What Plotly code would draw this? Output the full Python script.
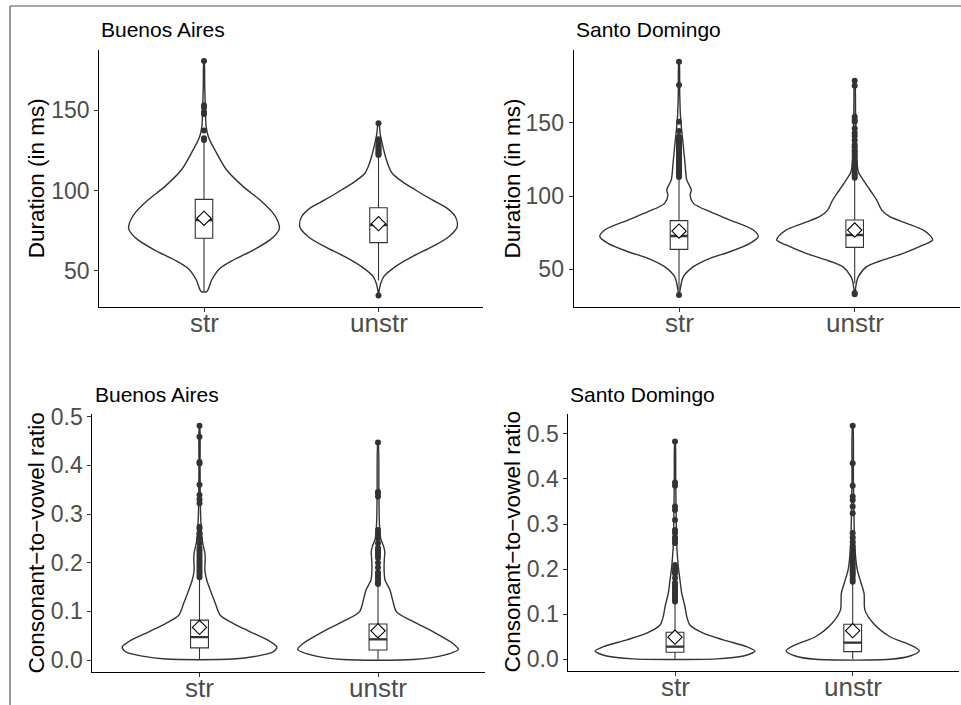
import plotly.graph_objects as go

# ---------------------------------------------------------------- data
CATEGORIES = ["str", "unstr"]
CAT_POS = [1, 2]

# Buenos Aires - duration (ms): box statistics for [str, unstr]
ba_dur_low = [37.2, 44.0]
ba_dur_q1 = [70.3, 67.6]
ba_dur_median = [81.7, 78.6]
ba_dur_q3 = [94.5, 89.3]
ba_dur_high = [130.2, 121.0]
ba_dur_mean = [82.7, 79.4]
ba_dur_str_out = [131.3, 132.5, 137.3, 147.5, 148.8, 151.5, 153.0, 180.5]
ba_dur_unstr_out = [34.7, 122.0, 122.8, 123.5, 124.5, 125.5, 126.5, 127.5,
                    128.5, 130.0, 131.8, 141.8]
# violin outlines: value levels and density half-widths (category units)
ba_dur_str_vy = [37.2, 40.3, 44.4, 51.7, 56.8, 63.0, 69.3, 73.0, 76.5, 80.5,
                 85.8, 94.1, 102.4, 112.7, 123.1, 133.4, 140.0, 150.0, 165.0, 180.5]
ba_dur_str_vw = [0.016, 0.03, 0.044, 0.092, 0.168, 0.283, 0.378, 0.415, 0.432, 0.425,
                 0.397, 0.321, 0.225, 0.13, 0.073, 0.025, 0.012, 0.008, 0.004, 0.001]
ba_dur_unstr_vy = [34.7, 38.0, 42.0, 46.5, 52.7, 58.9, 65.1, 71.3, 77.5, 83.7,
                   88.9, 94.1, 100.3, 105.5, 110.7, 114.8, 121.0, 129.3, 135.0, 141.8]
ba_dur_unstr_vw = [0.0, 0.004, 0.012, 0.03, 0.097, 0.193, 0.308, 0.403, 0.451, 0.441,
                   0.394, 0.308, 0.212, 0.136, 0.078, 0.059, 0.04, 0.021, 0.01, 0.002]

# Santo Domingo - duration (ms)
sd_dur_low = [35.5, 40.5]
sd_dur_q1 = [63.6, 65.0]
sd_dur_median = [72.7, 73.4]
sd_dur_q3 = [83.2, 83.6]
sd_dur_high = [112.0, 111.5]
sd_dur_mean = [76.1, 76.8]
sd_dur_str_out = [32.5, 113.0, 114.0, 115.0, 116.0, 117.0, 118.0, 119.0, 120.0,
                  121.0, 122.0, 123.0, 124.0, 125.0, 126.0, 127.0, 128.0, 129.0,
                  130.0, 131.0, 132.0, 133.0, 134.0, 135.0, 136.0, 137.0, 138.0,
                  139.0, 140.5, 144.3, 150.7, 175.7, 191.6]
sd_dur_unstr_out = [33.0, 33.8, 112.5, 114.0, 115.5, 117.7, 119.0, 120.5, 122.3,
                    124.0, 126.4, 128.0, 130.0, 131.0, 133.2, 135.0, 138.0, 140.9,
                    143.0, 146.0, 150.7, 152.0, 154.1, 175.2, 178.6]
sd_dur_str_vy = [32.5, 35.0, 40.0, 45.0, 51.8, 57.5, 62.0, 67.7, 72.3, 76.8, 83.6,
                 89.3, 95.0, 100.7, 104.0, 107.0, 111.0, 122.3, 133.6, 145.0, 155.0,
                 170.0, 191.6]
sd_dur_str_vw = [0.0, 0.005, 0.012, 0.025, 0.082, 0.176, 0.29, 0.404, 0.451, 0.423, 0.29,
                 0.176, 0.082, 0.063, 0.07, 0.06, 0.044, 0.034, 0.025, 0.015, 0.008,
                 0.004, 0.001]
sd_dur_unstr_vy = [33.0, 37.0, 41.0, 45.0, 51.8, 56.4, 60.9, 66.6, 70.0, 73.0, 76.8,
                   81.4, 85.9, 90.4, 97.3, 104.1, 110.9, 116.6, 125.0, 140.0, 155.0, 178.6]
sd_dur_unstr_vw = [0.0, 0.005, 0.01, 0.021, 0.068, 0.163, 0.277, 0.391, 0.444, 0.43, 0.391,
                   0.296, 0.2, 0.154, 0.125, 0.087, 0.049, 0.021, 0.012, 0.008, 0.005, 0.001]

# Buenos Aires - consonant-to-vowel ratio
ba_cv_low = [0.002, 0.001]
ba_cv_q1 = [0.025, 0.0206]
ba_cv_median = [0.047, 0.0425]
ba_cv_q3 = [0.082, 0.074]
ba_cv_high = [0.167, 0.153]
ba_cv_mean = [0.067, 0.060]
ba_cv_str_out = [0.170, 0.175, 0.180, 0.185, 0.190, 0.195, 0.200, 0.205, 0.210,
                 0.215, 0.220, 0.225, 0.230, 0.240, 0.250, 0.260, 0.270, 0.274,
                 0.322, 0.330, 0.339, 0.360, 0.404, 0.407, 0.459, 0.4815]
ba_cv_unstr_out = [0.156, 0.160, 0.165, 0.170, 0.175, 0.180, 0.190, 0.200, 0.210,
                   0.215, 0.220, 0.225, 0.230, 0.240, 0.250, 0.260, 0.267, 0.336,
                   0.343, 0.345, 0.447]
ba_cv_str_vy = [0.002, 0.008, 0.017, 0.027, 0.038, 0.058, 0.075, 0.092, 0.117, 0.144,
                0.164, 0.185, 0.206, 0.22, 0.24, 0.27, 0.30, 0.35, 0.40, 0.4815]
ba_cv_str_vw = [0.19, 0.32, 0.414, 0.433, 0.396, 0.284, 0.19, 0.116, 0.088, 0.06,
                0.041, 0.03, 0.032, 0.03, 0.018, 0.01, 0.006, 0.004, 0.003, 0.001]
ba_cv_unstr_vy = [0.001, 0.008, 0.022, 0.034, 0.058, 0.079, 0.099, 0.123, 0.144, 0.165,
                  0.192, 0.21, 0.223, 0.235, 0.25, 0.28, 0.34, 0.447]
ba_cv_unstr_vw = [0.198, 0.347, 0.45, 0.42, 0.31, 0.198, 0.104, 0.082, 0.067, 0.039,
                  0.034, 0.036, 0.038, 0.03, 0.015, 0.008, 0.005, 0.001]

# Santo Domingo - consonant-to-vowel ratio
sd_cv_low = [0.001, 0.0]
sd_cv_q1 = [0.0155, 0.0169]
sd_cv_median = [0.028, 0.037]
sd_cv_q3 = [0.060, 0.0777]
sd_cv_high = [0.125, 0.168]
sd_cv_mean = [0.049, 0.0635]
sd_cv_str_out = [0.128, 0.132, 0.136, 0.140, 0.145, 0.150, 0.155, 0.160, 0.165,
                 0.170, 0.180, 0.190, 0.195, 0.202, 0.209, 0.258, 0.265, 0.270,
                 0.280, 0.287, 0.309, 0.331, 0.339, 0.385, 0.392, 0.483]
sd_cv_unstr_out = [0.172, 0.178, 0.185, 0.190, 0.195, 0.200, 0.205, 0.210, 0.215,
                   0.220, 0.228, 0.235, 0.243, 0.250, 0.260, 0.270, 0.280, 0.324,
                   0.339, 0.353, 0.361, 0.385, 0.435, 0.518]
sd_cv_str_vy = [0.001, 0.0073, 0.0184, 0.028, 0.043, 0.058, 0.076, 0.095, 0.117, 0.146,
                0.176, 0.20, 0.25, 0.30, 0.40, 0.483]
sd_cv_str_vw = [0.235, 0.385, 0.45, 0.403, 0.272, 0.159, 0.084, 0.066, 0.056, 0.038,
                0.028, 0.02, 0.01, 0.007, 0.004, 0.001]
sd_cv_unstr_vy = [0.0, 0.0073, 0.019, 0.032, 0.05, 0.08, 0.109, 0.146, 0.172, 0.20,
                  0.25, 0.30, 0.40, 0.518]
sd_cv_unstr_vw = [0.21, 0.323, 0.375, 0.323, 0.21, 0.116, 0.069, 0.064, 0.045, 0.025,
                  0.012, 0.008, 0.004, 0.001]

# ---------------------------------------------------------------- styling
W, H = 961, 705
FONT = "Liberation Sans, Arial, Helvetica, sans-serif"
INK = "#333333"
TICK_GREY = "#4D4D4D"

panels = [
    dict(title="Buenos Aires", ytitle="Duration (in ms)",
         box=(ba_dur_low, ba_dur_q1, ba_dur_median, ba_dur_q3, ba_dur_high, ba_dur_mean),
         out=(ba_dur_str_out, ba_dur_unstr_out),
         vio=((ba_dur_str_vy, ba_dur_str_vw), (ba_dur_unstr_vy, ba_dur_unstr_vw)),
         xpx=(99.3, 483.2), ypx=(50, 307), yrange=[27.6, 187.3],
         ticks=[50, 100, 150], fmt="d", title_px=(99, 30), ytitle_x=36.7),
    dict(title="Santo Domingo", ytitle="Duration (in ms)",
         box=(sd_dur_low, sd_dur_q1, sd_dur_median, sd_dur_q3, sd_dur_high, sd_dur_mean),
         out=(sd_dur_str_out, sd_dur_unstr_out),
         vio=((sd_dur_str_vy, sd_dur_str_vw), (sd_dur_unstr_vy, sd_dur_unstr_vw)),
         xpx=(573.6, 960.1), ypx=(50, 307), yrange=[24.3, 199.6],
         ticks=[50, 100, 150], fmt="d", title_px=(574, 30), ytitle_x=512),
    dict(title="Buenos Aires", ytitle="Consonant\u2212to\u2212vowel ratio",
         box=(ba_cv_low, ba_cv_q1, ba_cv_median, ba_cv_q3, ba_cv_high, ba_cv_mean),
         out=(ba_cv_str_out, ba_cv_unstr_out),
         vio=((ba_cv_str_vy, ba_cv_str_vw), (ba_cv_unstr_vy, ba_cv_unstr_vw)),
         xpx=(92.4, 485.1), ypx=(414, 671.7), yrange=[-0.024, 0.5055],
         ticks=[0, 0.1, 0.2, 0.3, 0.4, 0.5], fmt=".1f", title_px=(93, 394), ytitle_x=36.7),
    dict(title="Santo Domingo", ytitle="Consonant\u2212to\u2212vowel ratio",
         box=(sd_cv_low, sd_cv_q1, sd_cv_median, sd_cv_q3, sd_cv_high, sd_cv_mean),
         out=(sd_cv_str_out, sd_cv_unstr_out),
         vio=((sd_cv_str_vy, sd_cv_str_vw), (sd_cv_unstr_vy, sd_cv_unstr_vw)),
         xpx=(568.4, 959.3), ypx=(414, 671), yrange=[-0.026, 0.544],
         ticks=[0, 0.1, 0.2, 0.3, 0.4, 0.5], fmt=".1f", title_px=(568, 394), ytitle_x=512),
]

fig = go.Figure()
annotations = []
BOX_W = 0.1
CAT_LABEL_DROP = 16  # px from the x-axis line to the middle of a category label

for i, p in enumerate(panels):
    n = "" if i == 0 else str(i + 1)
    xa, ya = "x" + n, "y" + n
    low, q1, med, q3, high, mean = p["box"]

    for k, c in enumerate(CAT_POS):
        vy, vw = p["vio"][k]
        # violin outline: right edge upward, left edge back down, closed
        xs = [c + w for w in vw] + [c - w for w in reversed(vw)] + [c + vw[0]]
        ys = list(vy) + list(reversed(vy)) + [vy[0]]
        fig.add_trace(go.Scatter(
            x=xs, y=ys, xaxis=xa, yaxis=ya, mode="lines",
            line=dict(color=INK, width=1.4, shape="spline", smoothing=0.8),
            hoverinfo="skip", showlegend=False))

        fig.add_trace(go.Box(
            x=[c], q1=[q1[k]], median=[med[k]], q3=[q3[k]],
            lowerfence=[low[k]], upperfence=[high[k]],
            xaxis=xa, yaxis=ya, width=BOX_W, whiskerwidth=0,
            fillcolor="white", line=dict(color=INK, width=1.1),
            boxpoints=False, showlegend=False))

        # heavier median bar
        fig.add_trace(go.Scatter(
            x=[c - BOX_W / 2, c + BOX_W / 2], y=[med[k], med[k]],
            xaxis=xa, yaxis=ya, mode="lines",
            line=dict(color=INK, width=2.4), hoverinfo="skip", showlegend=False))

        # outliers
        outs = p["out"][k]
        fig.add_trace(go.Scatter(
            x=[c] * len(outs), y=outs, xaxis=xa, yaxis=ya, mode="markers",
            marker=dict(color=INK, size=6, line=dict(width=0)),
            showlegend=False))

        # mean
        fig.add_trace(go.Scatter(
            x=[c], y=[mean[k]], xaxis=xa, yaxis=ya, mode="markers",
            marker=dict(symbol="diamond", size=11, color="white",
                        line=dict(color="black", width=1.1)),
            showlegend=False))

    x0, x1 = p["xpx"]
    yt, yb = p["ypx"]
    axis_common = dict(showline=True, linecolor="black", linewidth=1.1,
                       ticks="outside", ticklen=4, tickcolor=INK, tickwidth=1.1,
                       showgrid=False, zeroline=False, automargin=False)
    fig.update_layout(**{
        "xaxis" + n: dict(domain=[x0 / W, x1 / W], range=[0.4, 2.6],
                          tickvals=CAT_POS, showticklabels=False,
                          anchor=ya, **axis_common),
        "yaxis" + n: dict(domain=[1 - yb / H, 1 - yt / H], range=p["yrange"],
                          tickvals=p["ticks"], tickformat=p["fmt"],
                          anchor=xa,
                          tickfont=dict(family=FONT, size=23, color=TICK_GREY),
                          **axis_common),
    })

    # category labels sit close under the axis
    for c, label in zip(CAT_POS, CATEGORIES):
        annotations.append(dict(
            text=label, x=c, xref=xa, y=1 - (yb + CAT_LABEL_DROP) / H, yref="paper",
            xanchor="center", yanchor="middle", showarrow=False,
            font=dict(family=FONT, size=26, color=TICK_GREY)))

    tx, ty = p["title_px"]
    annotations.append(dict(
        text=p["title"], x=tx / W, y=1 - ty / H, xref="paper", yref="paper",
        xanchor="left", yanchor="middle", showarrow=False,
        font=dict(family=FONT, size=21, color="black")))
    annotations.append(dict(
        text=p["ytitle"], x=p["ytitle_x"] / W, y=1 - (yt + yb) / 2 / H,
        xref="paper", yref="paper", xanchor="center", yanchor="middle",
        textangle=-90, showarrow=False,
        font=dict(family=FONT, size=22.5, color="black")))

# outer frame: left and top edges only are inside the page
frame = dict(color="#555555", width=1.2)
fig.update_layout(
    width=W, height=H,
    margin=dict(l=0, r=0, t=0, b=0, autoexpand=False),
    paper_bgcolor="white", plot_bgcolor="white",
    annotations=annotations,
    shapes=[
        dict(type="line", xref="paper", yref="paper",
             x0=10 / W, x1=10 / W, y0=0, y1=1 - 6 / H, line=frame),
        dict(type="line", xref="paper", yref="paper",
             x0=10 / W, x1=1, y0=1 - 6 / H, y1=1 - 6 / H, line=frame),
    ],
    showlegend=False,
)

fig.write_html("out.html")
